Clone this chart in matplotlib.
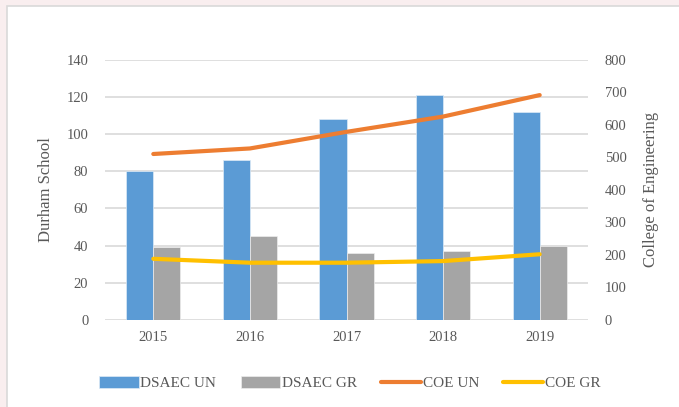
import matplotlib
matplotlib.use("Agg")
import matplotlib.pyplot as plt
from matplotlib.patches import Rectangle
import numpy as np

years = ['2015', '2016', '2017', '2018', '2019']
dsaec_un = [80, 86, 108, 121, 112]
dsaec_gr = [39, 45, 36, 37, 40]
coe_un = [510, 527, 578, 625, 691]
coe_gr = [188, 176, 176, 181, 202]

plt.rcParams['font.family'] = ['Liberation Serif', 'DejaVu Serif']
txt = '#595959'
grid = '#d9d9d9'

fig = plt.figure(figsize=(6.79, 4.07), dpi=100)
fig.patch.set_facecolor('#f9eeef')
# white chart panel with a thin grey frame, behind the axes
fig.patches.append(Rectangle((7 / 679, -0.1), 1.1, 1 - 6 / 407 + 0.1, transform=fig.transFigure,
                             facecolor='white', edgecolor=grid, linewidth=1.2, zorder=-5))

ax = fig.add_axes([105 / 679, 1 - 320 / 407, 483 / 679, (320 - 59.6) / 407])
ax.set_facecolor('none')
x = np.arange(len(years))
w = 0.28
ax.bar(x - w / 2, dsaec_un, w, color='#5b9bd5', edgecolor='#deebf7', linewidth=0.5, zorder=2, label='DSAEC UN')
ax.bar(x + w / 2, dsaec_gr, w, color='#a5a5a5', edgecolor='#ededed', linewidth=0.5, zorder=2, label='DSAEC GR')
ax.set_ylim(0, 140)
ax.set_yticks(range(0, 141, 20))
ax.set_xlim(-0.5, 4.5)
ax.set_xticks(x)
ax.set_xticklabels(years)
ax.grid(axis='y', color=grid, linewidth=1.2, zorder=0)
ax.set_axisbelow(True)
for s in ax.spines.values():
    s.set_visible(False)
ax.tick_params(length=0, labelsize=10.5, colors=txt, pad=12)
ax.tick_params(axis='x', pad=8)
ax.set_ylabel('Durham School', fontsize=12, color=txt, labelpad=9)

ax2 = ax.twinx()
ax2.plot(x, coe_un, color='#ed7d31', linewidth=3, solid_capstyle='round', label='COE UN')
ax2.plot(x, coe_gr, color='#ffc000', linewidth=3, solid_capstyle='round', label='COE GR')
ax2.set_ylim(0, 800)
ax2.set_yticks(range(0, 801, 100))
for s in ax2.spines.values():
    s.set_visible(False)
ax2.tick_params(length=0, labelsize=10.5, colors=txt, pad=12)
ax2.set_ylabel('College of Engineering', fontsize=12, color=txt, labelpad=12)

h1, l1 = ax.get_legend_handles_labels()
h2, l2 = ax2.get_legend_handles_labels()
fig.legend(h1 + h2, l1 + l2, loc='center', bbox_to_anchor=(0.515, 1 - 383 / 407), ncol=4,
           frameon=False, fontsize=11, handlelength=2.6, handleheight=0.9, handletextpad=0.1,
           columnspacing=1.6, labelcolor=txt)

fig.savefig('out.png', dpi=100, facecolor=fig.get_facecolor())
